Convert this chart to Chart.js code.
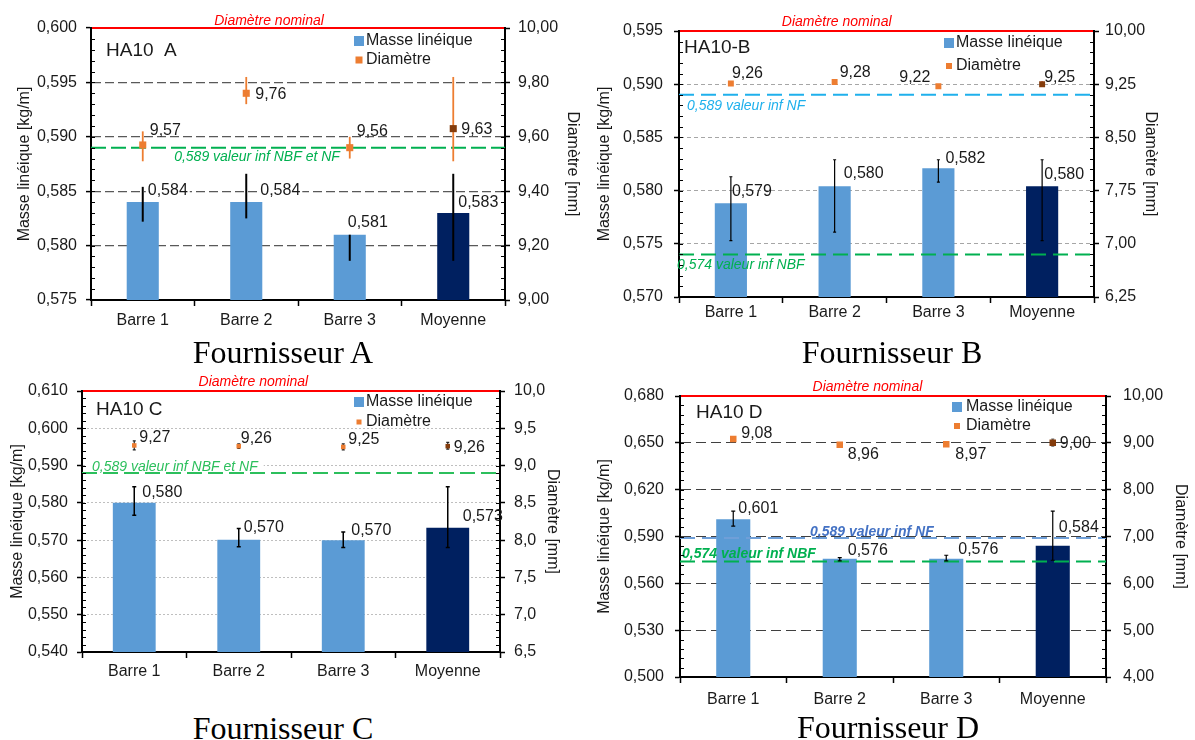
<!DOCTYPE html>
<html>
<head>
<meta charset="utf-8">
<script src="https://cdn.jsdelivr.net/npm/chart.js@4.4.1/dist/chart.umd.min.js"></script>
<style>
  body { margin: 0; background: #fff; width: 1195px; height: 740px; position: relative; overflow: hidden; }
  .box { position: absolute; }
  .cap { position: absolute; transform: translateX(-50%); white-space: nowrap;
         font-family: "Liberation Serif", "Times New Roman", serif; font-size: 32px; line-height: 36px; color: #000; }
</style>
</head>
<body>
<div class="box" style="left:0;top:0;width:590px;height:335px"><canvas id="cA"></canvas></div>
<div class="box" style="left:590px;top:0;width:605px;height:335px"><canvas id="cB"></canvas></div>
<div class="box" style="left:0;top:363px;width:590px;height:330px"><canvas id="cC"></canvas></div>
<div class="box" style="left:590px;top:368px;width:605px;height:345px"><canvas id="cD"></canvas></div>
<div class="cap" id="capA" style="left:283px;top:334px"></div>
<div class="cap" id="capB" style="left:892px;top:334px"></div>
<div class="cap" id="capC" style="left:283px;top:710px"></div>
<div class="cap" id="capD" style="left:888px;top:709px"></div>
<script>
// -----------------------
// DATA
// -----------------------

const categories = ['Barre 1', 'Barre 2', 'Barre 3', 'Moyenne'];
const seriesNames = ['Masse linéique', 'Diamètre'];
const nominalText = 'Diamètre nominal';
const suppliers = ['Fournisseur A', 'Fournisseur B', 'Fournisseur C', 'Fournisseur D'];
const panelTitles = ['HA10  A', 'HA10-B', 'HA10 C', 'HA10 D'];

// Fournisseur A
const massTicksA = [0.575, 0.580, 0.585, 0.590, 0.595, 0.600];
const diamTicksA = [9.00, 9.20, 9.40, 9.60, 9.80, 10.00];
const massA = [0.584, 0.584, 0.581, 0.583];
const massLowA = [0.5822, 0.5825, 0.5786, 0.5786];
const massHighA = [0.5854, 0.5866, 0.5810, 0.5866];
const diamA = [9.57, 9.76, 9.56, 9.63];
const diamLowA = [9.51, 9.72, 9.52, 9.51];
const diamHighA = [9.62, 9.82, 9.60, 9.82];
const limitsA = [0.589];
const limitTextA = ['0,589 valeur inf NBF et NF'];

// Fournisseur B
const massTicksB = [0.570, 0.575, 0.580, 0.585, 0.590, 0.595];
const diamTicksB = [6.25, 7.00, 7.75, 8.50, 9.25, 10.00];
const massB = [0.5788, 0.5804, 0.5821, 0.5804];
const massLowB = [0.5753, 0.5761, 0.5808, 0.5753];
const massHighB = [0.5813, 0.5829, 0.5829, 0.5829];
const diamB = [9.26, 9.28, 9.22, 9.25];
const diamLowB = [9.23, 9.27, 9.21, 9.21];
const diamHighB = [9.29, 9.29, 9.23, 9.29];
const limitsB = [0.589, 0.574];
const limitTextB = ['0,589 valeur inf NF', '0,574 valeur inf NBF'];

// Fournisseur C
const massTicksC = [0.540, 0.550, 0.560, 0.570, 0.580, 0.590, 0.600, 0.610];
const diamTicksC = [6.5, 7.0, 7.5, 8.0, 8.5, 9.0, 9.5, 10.0];
const massC = [0.5800, 0.5701, 0.5700, 0.5733];
const massLowC = [0.5767, 0.5682, 0.5680, 0.5680];
const massHighC = [0.5843, 0.5731, 0.5722, 0.5843];
const diamC = [9.27, 9.26, 9.25, 9.26];
const diamLowC = [9.21, 9.23, 9.21, 9.22];
const diamHighC = [9.33, 9.29, 9.29, 9.31];
const limitsC = [0.588];
const limitTextC = ['0,589 valeur inf NBF et NF'];

// Fournisseur D
const massTicksD = [0.500, 0.530, 0.560, 0.590, 0.620, 0.650, 0.680];
const diamTicksD = [4.00, 5.00, 6.00, 7.00, 8.00, 9.00, 10.00];
const massD = [0.601, 0.5757, 0.5758, 0.584];
const massLowD = [0.5966, 0.5744, 0.5744, 0.5748];
const massHighD = [0.6063, 0.5765, 0.5780, 0.6063];
const diamD = [9.08, 8.96, 8.97, 9.00];
const diamLowD = [9.06, 8.95, 8.96, 8.93];
const diamHighD = [9.10, 8.97, 8.98, 9.08];
const limitsD = [0.589, 0.574];
const limitTextD = ['0,589 valeur inf NF', '0,574 valeur inf NBF'];

// -----------------------
// STYLE
// -----------------------

const FONT = '"Liberation Sans", Arial, sans-serif';
const TXT = '#1a1a1a';
const BLUE = '#5b9bd5', NAVY = '#002060', ORANGE = '#ed7d31', BROWN = '#843c0c';
const GREEN = '#00b050';

Chart.defaults.font.family = FONT;
Chart.defaults.font.size = 16;
Chart.defaults.color = TXT;

const comma = (v, d) => Number(v).toFixed(d).replace('.', ',');

const look = {
  cA: {
    title: panelTitles[0], pad: { top: 28, left: 15, right: 8, bottom: 0 }, yW: 76, y2W: 77, xH: 35,
    xPad: 5, yPad: 9, y2Pad: 8, barPct: 0.31, pointR: 5, dec2: 2,
    gridColor: '#595959', gridDash: [9, 4], gridW: 1.2, minor: 0.001,
    massErr: { color: '#000', w: 2, cap: 0 }, diamErr: { color: ORANGE, w: 1.8, cap: 0 },
    massLow: massLowA, massHigh: massHighA, diamLow: diamLowA, diamHigh: diamHighA,
    limits: limitsA, limitText: limitTextA,
    limitStyle: [{ x: 166, align: 'center', dy: 9, color: GREEN, dash: [15, 5], font: 'italic 14px ' + FONT }],
    massLbl: [[5, -11], [14, -11], [-2, -12], [5, -10]],
    diamLbl: [[7, -14], [9, 1], [7, -16], [8, 1]],
    labelBg: true, nomFx: 0.43, nomDy: -7, ha: { x: 15, y: 23 },
    leg: { dx: 151, y1: 13, y2: 32, tdx: 12, sq2: 7 }
  },
  cB: {
    title: panelTitles[1], pad: { top: 31, left: 5, right: 35, bottom: 0 }, yW: 84, y2W: 66, xH: 38,
    xPad: 0, yPad: 11, y2Pad: 6, barPct: 0.31, pointR: 4.2, dec2: 2,
    gridColor: '#a6a6a6', gridDash: [4, 3], gridW: 1, minor: 0.001,
    massErr: { color: '#000', w: 1.2, cap: 3 }, diamErr: { color: '#ff3030', w: 1.5, cap: 0 },
    massLow: massLowB, massHigh: massHighB, diamLow: diamLowB, diamHigh: diamHighB,
    limits: limitsB, limitText: limitTextB,
    limitStyle: [
      { x: 8, align: 'left', dy: 11, color: '#1fb0ec', dash: [15, 7], font: 'italic 14px ' + FONT },
      { x: -2, align: 'left', dy: 11, color: GREEN, dash: [15, 7], font: 'italic 14px ' + FONT }
    ],
    massLbl: [[1, -12], [9, -13], [7, -10], [2, -12]],
    diamLbl: [[1, -10], [5, -9], [-8, -9, 'right'], [2, -7]],
    labelBg: false, nomFx: 0.38, nomDy: -9, ha: { x: 5, y: 17 },
    leg: { dx: 150, y1: 12, y2: 35, tdx: 12, sq2: 6 }
  },
  cC: {
    title: panelTitles[2], pad: { top: 28, left: 8, right: 28, bottom: 0 }, yW: 74, y2W: 62, xH: 41,
    xPad: 4, yPad: 9, y2Pad: 9, barPct: 0.41, pointR: 3.2, dec2: 1,
    gridColor: '#bfbfbf', gridDash: [2, 2], gridW: 1, minor: 0.002,
    massErr: { color: '#000', w: 1.5, cap: 4 }, diamErr: { color: '#222', w: 1.2, cap: 3 },
    massLow: massLowC, massHigh: massHighC, diamLow: diamLowC, diamHigh: diamHighC,
    limits: limitsC, limitText: limitTextC,
    limitStyle: [{ x: 10, align: 'left', dy: -6, color: '#2cbf5c', dash: [15, 6], font: 'italic 14px ' + FONT, box: true }],
    massLbl: [[8, -10], [5, -12], [8, -10], [15, -11]],
    diamLbl: [[5, -8], [2, -8], [5, -7], [6, 1]],
    labelBg: false, nomFx: 0.41, nomDy: -9, ha: { x: 14, y: 19 },
    leg: { dx: 146, y1: 11, y2: 31, tdx: 12, sq2: 5 }
  },
  cD: {
    title: panelTitles[3], pad: { top: 28, left: 5, right: 5, bottom: 0 }, yW: 85, y2W: 84, xH: 36,
    xPad: 7, yPad: 11, y2Pad: 12, barPct: 0.32, pointR: 4.6, dec2: 2,
    gridColor: '#404040', gridDash: [10, 5], gridW: 1, minor: 0.006,
    massErr: { color: '#000', w: 1.2, cap: 4 }, diamErr: { color: '#444', w: 1, cap: 3 },
    massLow: massLowD, massHigh: massHighD, diamLow: diamLowD, diamHigh: diamHighD,
    limits: limitsD, limitText: limitTextD,
    limitStyle: [
      { x: 130, align: 'left', dy: -6, color: '#6f9fd8', textColor: '#4472c4', dash: [15, 7], font: 'italic bold 14px ' + FONT },
      { x: 2, align: 'left', dy: -7, color: GREEN, dash: [15, 7], font: 'italic bold 14px ' + FONT }
    ],
    massLbl: [[5, -11], [8, -8], [12, -9], [6, -18]],
    diamLbl: [[8, -5], [8, 10], [9, 10], [7, 1]],
    labelBg: false, nomFx: 0.44, nomDy: -9, ha: { x: 16, y: 17 },
    leg: { dx: 154, y1: 11, y2: 30, tdx: 14, sq2: 6 }
  }
};

// -----------------------
// DRAWING PLUGIN
// -----------------------

function errBar(ctx, px, y1, y2, st) {
    ctx.strokeStyle = st.color;
    ctx.lineWidth = st.w;
    ctx.beginPath();
    ctx.moveTo(px, y1); ctx.lineTo(px, y2);
    if (st.cap) {
        ctx.moveTo(px - st.cap / 2, y1); ctx.lineTo(px + st.cap / 2, y1);
        ctx.moveTo(px - st.cap / 2, y2); ctx.lineTo(px + st.cap / 2, y2);
    }
    ctx.stroke();
}

const deco = {
    id: 'deco',

    // after the bars, before the diameter markers
    afterDatasetDraw(chart, args) {
        if (args.index !== 0) return;
        const o = look[chart.canvas.id];
        const { ctx, chartArea: a } = chart;
        const x = chart.scales.x, y = chart.scales.y, y2 = chart.scales.y2;
        ctx.save();

        o.limits.forEach((v, i) => {
            const st = o.limitStyle[i];
            const py = y.getPixelForValue(v);
            const tx = a.left + st.x, ty = py + st.dy;
            ctx.font = st.font;
            if (st.box) {
                const w = ctx.measureText(o.limitText[i]).width;
                ctx.fillStyle = '#fff';
                ctx.fillRect(tx - 6, ty - 10, w + 12, 18);
            }
            ctx.setLineDash(st.dash);
            ctx.lineWidth = 2;
            ctx.strokeStyle = st.color;
            ctx.beginPath();
            ctx.moveTo(a.left, py); ctx.lineTo(a.right, py);
            ctx.stroke();
            ctx.setLineDash([]);
            ctx.fillStyle = st.textColor || st.color;
            ctx.textAlign = st.align;
            ctx.textBaseline = 'middle';
            ctx.fillText(o.limitText[i], tx, ty);
        });

        o.diamLow.forEach((lo, i) => {
            errBar(ctx, x.getPixelForValue(i), y2.getPixelForValue(lo), y2.getPixelForValue(o.diamHigh[i]), o.diamErr);
        });
        ctx.restore();
    },

    afterDatasetsDraw(chart) {
        const o = look[chart.canvas.id];
        const { ctx, chartArea: a } = chart;
        const x = chart.scales.x, y = chart.scales.y, y2 = chart.scales.y2;
        const mass = chart.data.datasets[0].data;
        const diam = chart.data.datasets[1].data;
        ctx.save();

        // minor ticks, inside both axes
        const n = Math.round((y.max - y.min) / o.minor);
        ctx.strokeStyle = '#000';
        ctx.lineWidth = 1.2;
        for (let k = 0; k <= n; k++) {
            const py = Math.round(y.getPixelForValue(y.min + k * o.minor)) + 0.5;
            ctx.beginPath();
            ctx.moveTo(a.left, py); ctx.lineTo(a.left + 4, py);
            ctx.moveTo(a.right, py); ctx.lineTo(a.right - 4, py);
            ctx.stroke();
        }

        // mass error bars
        o.massLow.forEach((lo, i) => {
            errBar(ctx, x.getPixelForValue(i), y.getPixelForValue(lo), y.getPixelForValue(o.massHigh[i]), o.massErr);
        });

        // value labels
        ctx.font = '16px ' + FONT;
        ctx.textBaseline = 'middle';
        mass.forEach((v, i) => {
            const px = x.getPixelForValue(i), py = y.getPixelForValue(v);
            const [dx, dy] = o.massLbl[i];
            const t = comma(v, 3);
            if (o.labelBg) {
                const w = ctx.measureText(t).width;
                ctx.fillStyle = '#fff';
                ctx.fillRect(px + dx - 2, py + dy - 9, w + 4, 18);
            }
            ctx.fillStyle = TXT;
            ctx.textAlign = 'left';
            ctx.fillText(t, px + dx, py + dy);
        });
        diam.forEach((v, i) => {
            const px = x.getPixelForValue(i), py = y2.getPixelForValue(v);
            const [dx, dy, al] = o.diamLbl[i];
            ctx.fillStyle = TXT;
            ctx.textAlign = al || 'left';
            ctx.fillText(comma(v, 2), px + dx, py + dy);
        });

        // nominal diameter line
        ctx.strokeStyle = '#ff0000';
        ctx.lineWidth = 2;
        ctx.beginPath();
        ctx.moveTo(a.left + 1, a.top); ctx.lineTo(a.right - 1, a.top);
        ctx.stroke();
        ctx.font = 'italic 14px ' + FONT;
        ctx.fillStyle = '#ff0000';
        ctx.textAlign = 'center';
        ctx.fillText(nominalText, a.left + o.nomFx * (a.right - a.left), a.top + o.nomDy);

        // panel title
        ctx.font = '19px ' + FONT;
        ctx.fillStyle = TXT;
        ctx.textAlign = 'left';
        ctx.fillText(o.title, a.left + o.ha.x, a.top + o.ha.y);

        // legend
        const lx = a.right - o.leg.dx;
        ctx.fillStyle = BLUE;
        ctx.fillRect(lx, a.top + o.leg.y1 - 5, 10, 10);
        ctx.fillStyle = ORANGE;
        ctx.fillRect(lx + 5 - o.leg.sq2 / 2, a.top + o.leg.y2 - o.leg.sq2 / 2, o.leg.sq2, o.leg.sq2);
        ctx.font = '16px ' + FONT;
        ctx.fillStyle = TXT;
        ctx.fillText(seriesNames[0], lx + o.leg.tdx, a.top + o.leg.y1);
        ctx.fillText(seriesNames[1], lx + o.leg.tdx, a.top + o.leg.y2);

        ctx.restore();
    }
};

// -----------------------
// CHARTS
// -----------------------

function build(id, mass, diam, massTicks, diamTicks) {
    const s = look[id];
    const last = categories.length - 1;
    const nT = massTicks.length;
    return new Chart(document.getElementById(id), {
        type: 'bar',
        data: {
            labels: categories,
            datasets: [
                {
                    label: seriesNames[0], data: mass, yAxisID: 'y', order: 2,
                    backgroundColor: categories.map((c, i) => i === last ? NAVY : BLUE),
                    barPercentage: s.barPct, categoryPercentage: 1
                },
                {
                    type: 'line', label: seriesNames[1], data: diam, yAxisID: 'y2', order: 1,
                    showLine: false, pointStyle: 'rect', pointRadius: s.pointR, pointBorderWidth: 0,
                    pointBackgroundColor: categories.map((c, i) => i === last ? BROWN : ORANGE)
                }
            ]
        },
        options: {
            responsive: true,
            maintainAspectRatio: false,
            animation: false,
            layout: { padding: s.pad },
            plugins: { legend: { display: false }, tooltip: { enabled: false } },
            scales: {
                x: {
                    grid: { drawOnChartArea: false, tickLength: 6, tickColor: '#000', tickWidth: 1.5 },
                    border: { color: '#000', width: 2 },
                    ticks: { padding: s.xPad, maxRotation: 0, autoSkip: false, color: TXT, font: { size: 16 } },
                    afterFit: sc => { sc.height = s.xH; }
                },
                y: {
                    position: 'left',
                    min: massTicks[0], max: massTicks[nT - 1],
                    ticks: { stepSize: massTicks[1] - massTicks[0], padding: s.yPad, color: TXT, font: { size: 16 },
                             callback: v => comma(v, 3) },
                    grid: {
                        color: c => (c.index > 0 && c.index < nT - 1) ? s.gridColor : 'rgba(0,0,0,0)',
                        lineWidth: s.gridW, tickColor: '#000', tickLength: 5, tickWidth: 1.5
                    },
                    border: { color: '#000', width: 2, dash: s.gridDash },
                    title: { display: true, text: 'Masse linéique [kg/m]', color: TXT, font: { size: 16 }, padding: 0 },
                    afterFit: sc => { sc.width = s.yW; }
                },
                y2: {
                    position: 'right',
                    min: diamTicks[0], max: diamTicks[diamTicks.length - 1],
                    ticks: { stepSize: diamTicks[1] - diamTicks[0], padding: s.y2Pad, color: TXT, font: { size: 16 },
                             callback: v => comma(v, s.dec2) },
                    grid: { drawOnChartArea: false, tickColor: '#000', tickLength: 5, tickWidth: 1.5 },
                    border: { color: '#000', width: 2 },
                    title: { display: true, text: 'Diamètre [mm]', color: TXT, font: { size: 16 }, padding: 0 },
                    afterFit: sc => { sc.width = s.y2W; }
                }
            }
        },
        plugins: [deco]
    });
}

build('cA', massA, diamA, massTicksA, diamTicksA);
build('cB', massB, diamB, massTicksB, diamTicksB);
build('cC', massC, diamC, massTicksC, diamTicksC);
build('cD', massD, diamD, massTicksD, diamTicksD);

['capA', 'capB', 'capC', 'capD'].forEach((id, i) => {
    document.getElementById(id).textContent = suppliers[i];
});
</script>
</body>
</html>
